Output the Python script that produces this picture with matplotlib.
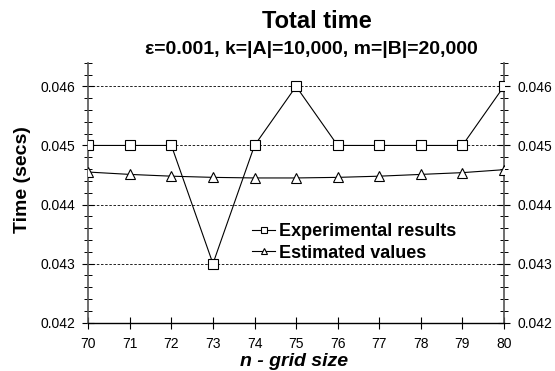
import matplotlib
matplotlib.use("Agg")
import matplotlib.pyplot as plt
from matplotlib.ticker import MultipleLocator

plt.rcParams['font.family'] = ['Liberation Sans', 'DejaVu Sans']

# データ
n = [70, 71, 72, 73, 74, 75, 76, 77, 78, 79, 80]
experimental = [0.045, 0.045, 0.045, 0.043, 0.045, 0.046, 0.045, 0.045, 0.045, 0.045, 0.046]
estimated = [0.04455, 0.04451, 0.04448, 0.04446, 0.04445, 0.04445, 0.04446, 0.04448, 0.04451, 0.04454, 0.04459]
yticks = [0.042, 0.043, 0.044, 0.045, 0.046]

fig = plt.figure(figsize=(5.55, 3.71), dpi=100)
ax = fig.add_axes([0.159, 0.130, 0.749, 0.701])

ax.plot(n, experimental, color="black", lw=0.8, marker="s", ms=6.5,
        mfc="white", mec="black", mew=0.8, label="Experimental results", zorder=3)
ax.plot(n, estimated, color="black", lw=0.8, marker="^", ms=7,
        mfc="white", mec="black", mew=0.8, label="Estimated values", zorder=3)

ax.set_xlim(70, 80)
ax.set_ylim(0.042, 0.0464)
ax.set_xticks(n)
ax.set_yticks(yticks)
ax.set_yticklabels([f"{v:.3f}" for v in yticks])
ax.yaxis.set_minor_locator(MultipleLocator(0.0002))

for v in yticks[1:]:
    ax.axhline(v, color="black", lw=0.6, ls=(0, (3, 2)), zorder=1)

ax.spines["top"].set_visible(False)
ax.spines["bottom"].set_linewidth(1.0)
for s in ["left", "right"]:
    ax.spines[s].set_linewidth(1.2)
    ax.spines[s].set_color("#555555")

ax.tick_params(axis="both", which="major", direction="inout", length=9, width=0.8,
               labelsize=10)
ax.tick_params(axis="x", which="major", pad=6)
ax.tick_params(axis="y", which="major", pad=5)
ax.tick_params(axis="y", which="minor", direction="inout", length=6, width=0.7)
ax.tick_params(axis="y", which="both", right=True, labelright=True)

fig.text(23 / 555, 1 - 180 / 371, "Time (secs)", rotation=90, ha="center", va="center",
         fontsize=14, fontweight="bold")
fig.text(294 / 555, 1 - 362 / 371, "n - grid size", ha="center", va="center",
         fontsize=14, fontweight="bold", style="italic")

fig.text(317 / 555, 1 - 21 / 371, "Total time", ha="center", va="center",
         fontsize=17, fontweight="bold")
fig.text(311 / 555, 1 - 49 / 371, "ε=0.001, k=|A|=10,000, m=|B|=20,000", ha="center",
         va="center", fontsize=14, fontweight="bold")

ax.legend(loc="upper left", bbox_to_anchor=(252 / 555, 1 - 223 / 371),
          bbox_transform=fig.transFigure, frameon=False,
          prop={"weight": "bold", "size": 13}, handlelength=1.3, handletextpad=0.2,
          labelspacing=0.25, borderpad=0, borderaxespad=0, markerscale=0.65)

fig.savefig("out.png", dpi=100)
